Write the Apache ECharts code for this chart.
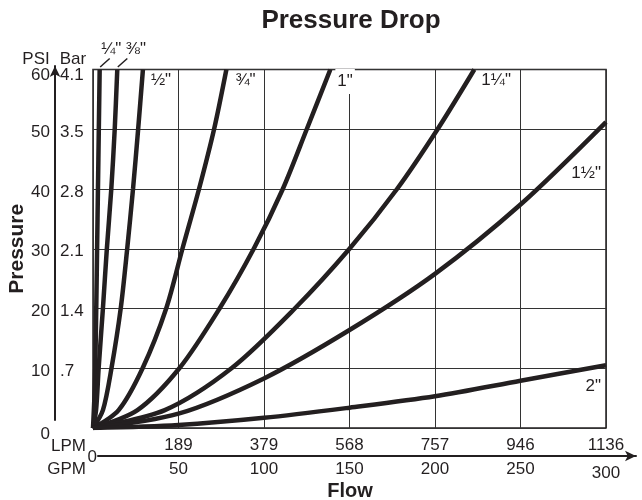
<!DOCTYPE html>
<html><head><meta charset="utf-8">
<script src="https://cdn.jsdelivr.net/npm/echarts@6/dist/echarts.min.js"></script>
<style>html,body{margin:0;padding:0;background:#fff}#c{width:642px;height:500px}</style>
</head><body><div id="c"></div>
<script>
// ---- data (GPM flow, PSI pressure) ----
const seriesNames = ['¼"', '⅜"', '½"', '¾"', '1"', '1¼"', '1½"', '2"'];
const pipe14 = [[0,0],[0.8,5],[1.3,10],[1.9,20],[2.4,30],[2.9,40],[3.4,50],[3.9,60]];
const pipe38 = [[0,0],[1.8,3],[3.3,10],[5.8,20],[8.1,30],[10.7,40],[12.7,50],[14.2,60]];
const pipe12 = [[0,0],[5.8,3],[10.8,10],[16.2,20],[20,30],[23.4,40],[26.4,50],[29.2,60]];
const pipe34 = [[0,0],[15,3],[29,10],[42.8,20],[52.3,30],[62,40],[70.8,50],[78,60]];
const pipe1  = [[0,0],[26,3],[50.5,10],[74,20],[94,30],[111,40],[125,50],[138.8,60]];
const pipe114 = [[0,0],[42,3],[81,10],[118,20],[150,30],[177.8,40],[201.5,50],[223,60]];
const pipe112 = [[0,0],[50,2.4],[100,8.3],[150,16.4],[200,25.8],[250,37.4],[300,51.2]];
const pipe2  = [[0,0],[50,0.5],[100,1.7],[150,3.4],[200,5.3],[250,7.9],[300,10.5]];
const allData = [pipe14, pipe38, pipe12, pipe34, pipe1, pipe114, pipe112, pipe2];

// ---- tick labels ----
const psiLabels = ['0', '10', '20', '30', '40', '50', '60'];
const barLabels = ['', '.7', '1.4', '2.1', '2.8', '3.5', '4.1'];
const lpmLabels = ['', '189', '379', '568', '757', '946', '1136'];
const gpmLabels = ['', '50', '100', '150', '200', '250', '300'];

const FONT = '"Liberation Sans", Arial, Helvetica, sans-serif';
const INK = '#231f20';

const chart = echarts.init(document.getElementById('c'));

function txt(text, left, top, align, size, bold) {
  return { text: text, left: left, top: top, textAlign: align, padding: 0, itemGap: 0,
    textStyle: { fontFamily: FONT, fontSize: size, fontWeight: bold ? 'bold' : 'normal', color: INK } };
}
const yRich = {
  n: { fontSize: 17, fontFamily: FONT, color: INK, padding: [6, 0, 0, 0] },
  t: { fontSize: 17, fontFamily: FONT, color: INK, padding: [12, 0, 0, 0] },
  b: { fontSize: 17, fontFamily: FONT, color: INK, padding: [12, 0, 0, 0] }
};
function yFmt(arr) {
  return v => {
    const s = arr[Math.round(v / 10)];
    if (!s) return '';
    const k = v >= 60 ? 't' : (v <= 0 ? 'b' : 'n');
    return '{' + k + '|' + s + '}';
  };
}

const option = {
  animation: false,
  textStyle: { fontFamily: FONT, color: INK },
  title: [
    txt('Pressure Drop', 351, 8, 'center', 26, true),
    txt('Flow', 350, 481, 'center', 20, true),
    txt('PSI', 36, 51, 'center', 17),
    txt('Bar', 73, 51, 'center', 17),
    txt('LPM', 86, 438, 'right', 17),
    txt('GPM', 86, 461, 'right', 17),
    txt('0', 97, 449, 'right', 17)
  ],
  grid: [
    { left: 93, right: 36, top: 69.5, bottom: 72, show: true, borderColor: INK, borderWidth: 1.5,
      containLabel: false, outerBoundsMode: 'none' },
    { left: 98, right: 6, top: 455, bottom: 44, show: false, outerBoundsMode: 'none' },
    { left: 55, width: 10, top: 66, bottom: 80, show: false, outerBoundsMode: 'none' }
  ],
  xAxis: [
    { gridIndex: 0, type: 'value', min: 0, max: 300, interval: 50, position: 'bottom',
      axisLine: { show: false }, axisTick: { show: false },
      splitLine: { show: true, lineStyle: { color: '#333', width: 1 } },
      axisLabel: { margin: 9, fontSize: 17, color: INK, fontFamily: FONT,
        formatter: v => lpmLabels[Math.round(v / 50)] } },
    { gridIndex: 0, type: 'value', min: 0, max: 300, interval: 50, position: 'bottom', offset: 32,
      axisLine: { show: false }, axisTick: { show: false }, splitLine: { show: false },
      axisLabel: { margin: 1, fontSize: 17, color: INK, fontFamily: FONT,
        formatter: v => { const s = gpmLabels[Math.round(v / 50)]; return v === 300 ? '{low|' + s + '}' : s; },
        rich: { low: { fontSize: 17, fontFamily: FONT, color: INK, padding: [4, 0, 0, 0] } } } },
    { gridIndex: 1, type: 'value', min: 0, max: 1, position: 'bottom',
      axisLine: { show: true, symbol: ['none', 'arrow'], symbolSize: [8, 11], lineStyle: { color: INK, width: 2 } },
      axisTick: { show: false }, axisLabel: { show: false }, splitLine: { show: false } },
    { gridIndex: 2, type: 'value', min: 0, max: 1, show: false }
  ],
  yAxis: [
    { gridIndex: 0, type: 'value', min: 0, max: 60, interval: 10, position: 'left',
      axisLine: { show: false }, axisTick: { show: false },
      splitLine: { show: true, lineStyle: { color: '#333', width: 1 } },
      axisLabel: { margin: 43, fontSize: 17, color: INK, fontFamily: FONT,
        formatter: yFmt(psiLabels), rich: yRich } },
    { gridIndex: 0, type: 'value', min: 0, max: 60, interval: 10, position: 'left',
      axisLine: { show: false }, axisTick: { show: false }, splitLine: { show: false },
      axisLabel: { margin: 33, align: 'left', fontSize: 17, color: INK, fontFamily: FONT,
        formatter: yFmt(barLabels), rich: yRich } },
    { gridIndex: 0, type: 'value', min: 0, max: 60, position: 'left',
      axisLine: { show: false }, axisTick: { show: false }, splitLine: { show: false }, axisLabel: { show: false },
      name: 'Pressure', nameLocation: 'middle', nameGap: 65, nameRotate: 90,
      nameTextStyle: { fontSize: 21, fontWeight: 'bold', color: INK, fontFamily: FONT } },
    { gridIndex: 1, type: 'value', min: 0, max: 1, show: false },
    { gridIndex: 2, type: 'value', min: 0, max: 1, position: 'left',
      axisLine: { show: true, symbol: ['none', 'arrow'], symbolSize: [8, 11], lineStyle: { color: INK, width: 2 } },
      axisTick: { show: false }, axisLabel: { show: false }, splitLine: { show: false } }
  ],
  series: allData.map((d, i) => ({
    name: seriesNames[i], type: 'line', xAxisIndex: 0, yAxisIndex: 0,
    data: d, smooth: 0.3, symbol: 'none', silent: true,
    lineStyle: { width: 4.5, color: INK }
  }))
};
chart.setOption(option);

// curve labels anchored to each curve's last point via the chart's scales
const labelCfg = [
  { dx: 1.5, dy: -20.5, align: 'left', leader: true },
  { dx: 8.5, dy: -20, align: 'left', leader: true },
  { dx: 8, dy: 11, align: 'left' },
  { dx: 9, dy: 11, align: 'left' },
  { dx: 5, dy: 12, align: 'left', bg: true },
  { dx: 7, dy: 11, align: 'left' },
  { dx: -5, dy: 51.5, align: 'right' },
  { dx: -5, dy: 21, align: 'right' }
];
const graphics = [];
allData.forEach((d, i) => {
  const p = chart.convertToPixel({ seriesIndex: i }, d[d.length - 1]);
  const c = labelCfg[i];
  graphics.push({
    type: 'text', x: p[0] + c.dx, y: p[1] + c.dy, z: 100,
    style: {
      text: seriesNames[i], font: '17px ' + FONT, fill: INK,
      align: c.align, verticalAlign: 'middle', textAlign: c.align, textVerticalAlign: 'middle',
      backgroundColor: c.bg ? '#fff' : undefined, padding: c.bg ? [4, 2] : undefined
    }
  });
  if (c.leader) {
    graphics.push({
      type: 'line', z: 100,
      shape: { x1: p[0] + 0.5, y1: p[1] - 2.5, x2: p[0] + 10, y2: p[1] - 11 },
      style: { stroke: INK, lineWidth: 1.5 }
    });
  }
});
chart.setOption({ graphic: graphics });
</script>
</body></html>
